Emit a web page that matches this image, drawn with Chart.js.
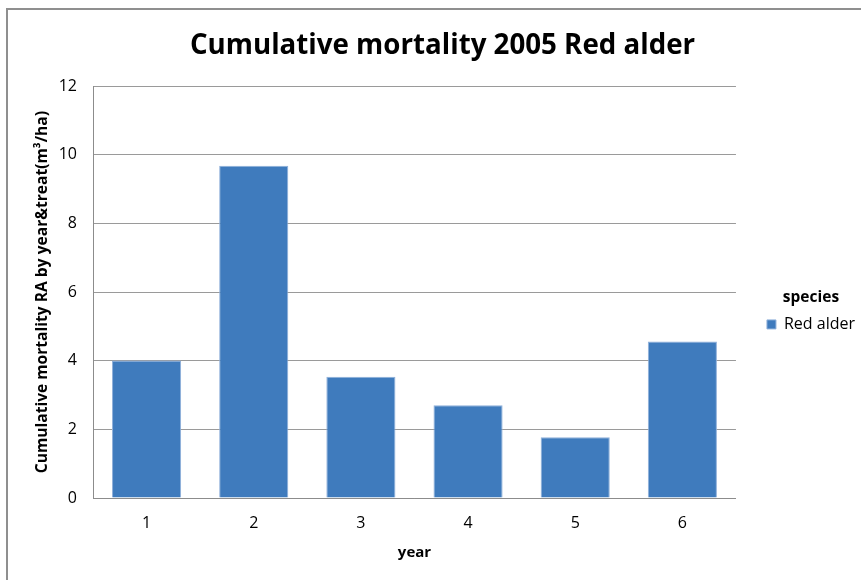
<!DOCTYPE html>
<html>
<head>
<meta charset="utf-8">
<script src="https://cdn.jsdelivr.net/npm/chart.js@4"></script>
<style>
  html, body { margin: 0; padding: 0; background: #fff; }
  #wrap { position: absolute; left: 0; top: 0; width: 861px; height: 580px; }
</style>
</head>
<body>
<div id="wrap"><canvas id="canvas" width="861" height="580"></canvas></div>
<script>
// values
var years = ['1', '2', '3', '4', '5', '6'];
var redAlder = [4.01, 9.68, 3.53, 2.70, 1.77, 4.56];
var yTicks = [0, 2, 4, 6, 8, 10, 12];
var legendTitle = 'species';

var FONT = 'Open Sans';

// grey frame round the whole chart, like the spreadsheet one
var framePlugin = {
    id: 'frame',
    beforeDraw: function(chart){
        var c = chart.ctx;
        c.save();
        c.fillStyle = '#fff';
        c.fillRect(0, 0, chart.width, chart.height);
        c.strokeStyle = '#8f8f8f';
        c.lineWidth = 2;
        c.strokeRect(7, 9, chart.width + 20, chart.height + 20);
        c.restore();
    },
    // legend title centred over the item, not over the whole legend box
    afterDraw: function(chart){
        var hb = chart.legend && chart.legend.legendHitBoxes && chart.legend.legendHitBoxes[0];
        if(!hb) return;
        var c = chart.ctx;
        c.save();
        c.font = 'bold 15.5px "' + FONT + '"';
        c.fillStyle = '#000';
        c.textAlign = 'center';
        c.textBaseline = 'middle';
        c.fillText(legendTitle, hb.left + hb.width / 2, hb.top + hb.height / 2 - 27);
        c.restore();
    }
};

var config = {
    type: 'bar',
    data: {
        labels: years,
        datasets: [{
            label: 'Red alder',
            data: redAlder,
            backgroundColor: '#3f7bbd',
            borderColor: '#8fb0da',
            borderWidth: 1,
            categoryPercentage: 1.0,
            barPercentage: 0.645
        }]
    },
    options: {
        responsive: false,
        animation: false,
        devicePixelRatio: 1,
        layout: { padding: { left: 20, right: -4, top: 0, bottom: 12 } },
        plugins: {
            title: {
                display: true,
                text: 'Cumulative mortality 2005 Red alder',
                color: '#000',
                font: { family: FONT, size: 27.7, weight: 'bold', lineHeight: 1.2 },
                padding: { top: 29, bottom: 24 }
            },
            legend: {
                position: 'right',
                fullSize: false,
                title: {
                    // keeps room for the title; the text itself is drawn by the plugin
                    display: true,
                    text: legendTitle,
                    color: 'rgba(0,0,0,0)',
                    font: { family: FONT, size: 15.5, weight: 'bold' },
                    padding: { top: 65, bottom: -19 }
                },
                labels: {
                    color: '#000',
                    font: { family: FONT, size: 16 },
                    boxWidth: 9,
                    boxHeight: 9,
                    padding: 31,
                    useBorderRadius: false
                }
            },
            tooltip: { enabled: false }
        },
        scales: {
            x: {
                grid: { display: false, drawTicks: false },
                border: { color: '#8c8c8c', width: 1 },
                ticks: { color: '#000', font: { family: FONT, size: 16 }, padding: 16 },
                title: {
                    display: true, text: 'year', color: '#000',
                    font: { family: FONT, size: 15, weight: 'bold' },
                    padding: { top: 0, bottom: 6 }
                },
                afterFit: function(s){ s.height = 70; }
            },
            y: {
                min: 0, max: 12,
                afterBuildTicks: function(s){ s.ticks = yTicks.map(function(v){ return { value: v }; }); },
                grid: { color: '#9a9a9a', drawTicks: false },
                border: { color: '#8c8c8c', width: 1 },
                ticks: { color: '#000', font: { family: FONT, size: 16 }, padding: 16 },
                title: {
                    display: true, text: 'Cumulative mortality RA by year&treat(m³/ha)', color: '#000',
                    font: { family: FONT, size: 15.6, weight: 'bold' },
                    padding: { top: 13, bottom: 0 }
                },
                afterFit: function(s){ s.width = 73; }
            }
        }
    },
    plugins: [framePlugin]
};

var ctx = document.getElementById('canvas').getContext('2d');
var chart = new Chart(ctx, config);
</script>
</body>
</html>
